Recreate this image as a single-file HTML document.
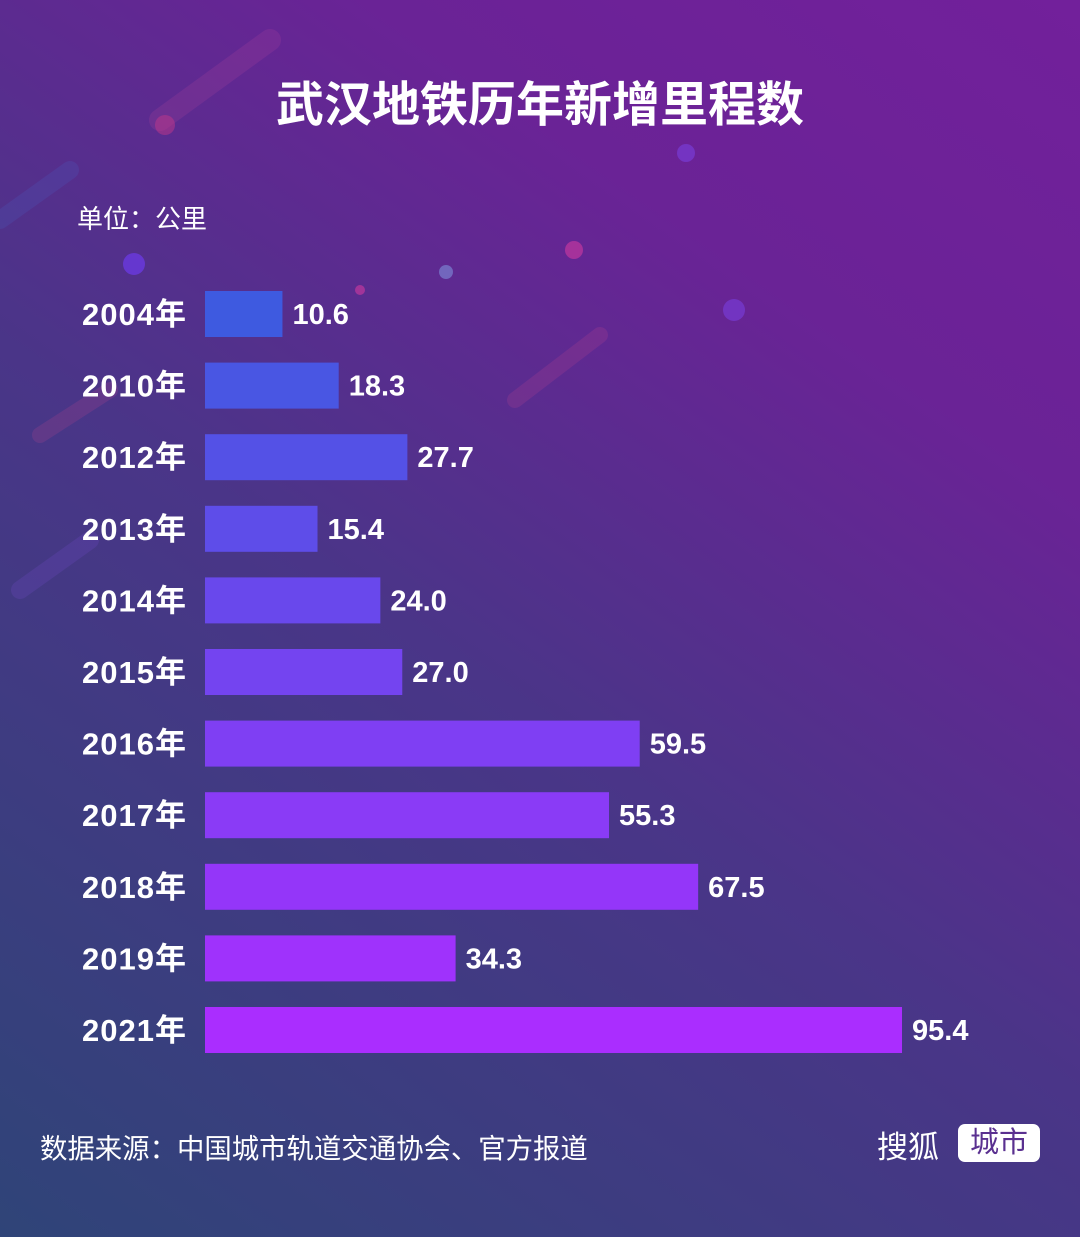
<!DOCTYPE html>
<html><head><meta charset="utf-8"><style>
body{margin:0;width:1080px;height:1237px;overflow:hidden;font-family:"Liberation Sans","Noto Sans CJK SC",sans-serif;}
#bg{position:absolute;left:0;top:0;width:1080px;height:1237px;background:linear-gradient(35deg,#2f4478 0%,#4a3588 45%,#6a2396 75%,#72209b 100%);}
.t{position:absolute;color:#fff;white-space:nowrap;}
</style></head><body>
<div id="bg"></div>
<svg width="1080" height="1237" style="position:absolute;left:0;top:0">
<g opacity="0.18">
<line x1="160" y1="120" x2="270" y2="40" stroke="#c04aa0" stroke-width="22" stroke-linecap="round"/>
<line x1="0" y1="220" x2="70" y2="170" stroke="#4a6ad0" stroke-width="18" stroke-linecap="round"/>
<line x1="40" y1="435" x2="110" y2="390" stroke="#d04a90" stroke-width="16" stroke-linecap="round"/>
<line x1="515" y1="400" x2="600" y2="335" stroke="#d04a90" stroke-width="16" stroke-linecap="round"/>
<line x1="20" y1="590" x2="90" y2="540" stroke="#8050e0" stroke-width="18" stroke-linecap="round"/>
</g>
<circle cx="165" cy="125" r="10" fill="#c0388a" opacity="0.5"/>
<circle cx="686" cy="153" r="9" fill="#7a40e0" opacity="0.6"/>
<circle cx="134" cy="264" r="11" fill="#6a3ae0" opacity="0.8"/>
<circle cx="446" cy="272" r="7" fill="#7a80d0" opacity="0.7"/>
<circle cx="574" cy="250" r="9" fill="#d03aa0" opacity="0.6"/>
<circle cx="360" cy="290" r="5" fill="#d03aa0" opacity="0.6"/>
<circle cx="734" cy="310" r="11" fill="#7a40e0" opacity="0.6"/>
<g id="bars"></g>
</svg>
<div class="t" style="left:0;width:1080px;text-align:center;top:66px;font-size:48px;font-weight:bold;font-family:'Noto Sans CJK SC',sans-serif;line-height:68px;">武汉地铁历年新增里程数</div>
<div class="t" style="left:77px;top:199px;font-size:26px;">单位：公里</div>
<div class="t" style="left:40px;top:1126px;font-size:27.4px;">数据来源：中国城市轨道交通协会、官方报道</div>
<div class="t" style="left:877px;top:1122px;font-size:31px;">搜狐</div>
<div class="t" style="left:958px;top:1124px;width:82px;height:38px;background:#fff;color:#5a3090;border-radius:7px;text-align:center;font-size:29px;line-height:38px;">城市</div>
<script>
const categories=["2004年","2010年","2012年","2013年","2014年","2015年","2016年","2017年","2018年","2019年","2021年"];
const values=[10.6,18.3,27.7,15.4,24.0,27.0,59.5,55.3,67.5,34.3,95.4];
const labels=["10.6","18.3","27.7","15.4","24.0","27.0","59.5","55.3","67.5","34.3","95.4"];
const x0=205, scale=697/95.4, y0=314, step=71.6, bh=46;
const xs=v=>x0+v*scale, ys=i=>y0+i*step;
const g=document.getElementById('bars');
const ns='http://www.w3.org/2000/svg';
function mix(a,b,t){return 'rgb('+a.map((c,k)=>Math.round(c+(b[k]-c)*t)).join(',')+')';}
categories.forEach((c,i)=>{
 const r=document.createElementNS(ns,'rect');
 
 
 r.setAttribute('x',x0);r.setAttribute('y',ys(i)-bh/2);
 r.setAttribute('width',xs(values[i])-x0);r.setAttribute('height',bh);
 r.setAttribute('fill',mix([62,90,224],[170,45,255],i/(categories.length-1)));
 g.appendChild(r);
 const t=document.createElementNS(ns,'text');
 
 
 t.setAttribute('x',186);t.setAttribute('y',ys(i)+11);t.setAttribute('text-anchor','end');
 t.setAttribute('fill','#fff');t.setAttribute('font-size','31');t.setAttribute('font-weight','bold');
 t.setAttribute('font-family','Liberation Sans, Noto Sans CJK SC, sans-serif');
 t.setAttribute('textLength','104');
 t.textContent=c;g.appendChild(t);
 const v=document.createElementNS(ns,'text');
 
 
 v.setAttribute('x',xs(values[i])+10);v.setAttribute('y',ys(i)+10);
 v.setAttribute('fill','#fff');v.setAttribute('font-size','29');v.setAttribute('font-weight','bold');
 v.setAttribute('font-family','Liberation Sans, sans-serif');
 v.textContent=labels[i];g.appendChild(v);
});
</script>
</body></html>
